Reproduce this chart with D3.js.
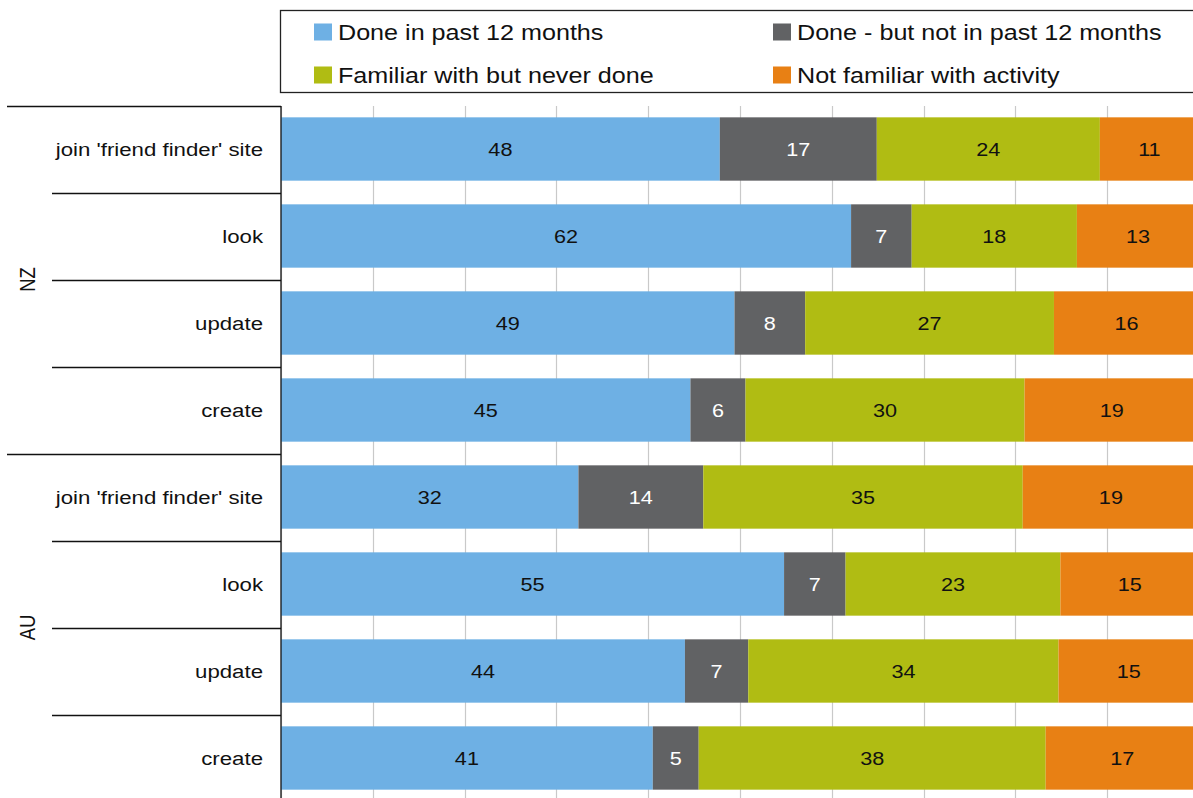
<!DOCTYPE html>
<html>
<head>
<meta charset="utf-8">
<script src="https://cdn.jsdelivr.net/npm/d3@7.9.0/dist/d3.min.js"></script>
<style>
    html, body { margin: 0; padding: 0; background: #fff; }
    svg { display: block; }
    text { font-family: "Liberation Sans", Arial, Helvetica, sans-serif; }
</style>
</head>
<body>
<svg id="chart" width="1193" height="798"></svg>
<script>
// data (percent of respondents)
var groups = ['NZ', 'AU']
var categories = ["join 'friend finder' site", 'look', 'update', 'create']
var seriesNames = [
    'Done in past 12 months',
    'Done - but not in past 12 months',
    'Familiar with but never done',
    'Not familiar with activity',
]
// one value per row: NZ rows first, then AU rows
var doneRecent = [47.8, 62.1, 49.4, 44.6, 32.4, 54.8, 44.0, 40.5]
var doneOlder = [17.1, 6.6, 7.7, 6.0, 13.6, 6.7, 6.9, 5.0]
var familiarNever = [24.3, 18.0, 27.1, 30.4, 34.8, 23.4, 33.8, 37.8]
var notFamiliar = [10.8, 13.3, 15.8, 19.0, 19.2, 15.1, 15.3, 16.7]
var xTicks = [0, 10, 20, 30, 40, 50, 60, 70, 80, 90, 100]

var COLORS = ['#6eb0e4', '#616264', '#b0bc13', '#e88014']
var LABEL_FILL = ['#111', '#fff', '#111', '#111']
var SX = 1.17 // the source picture is a little wider than tall

;(function () {
    var svg = d3.select('#chart')

    var rows = []
    groups.forEach(function (g, gi) {
        categories.forEach(function (c, ci) {
            var i = gi * categories.length + ci
            rows.push({
                key: g + '|' + c,
                group: g,
                cat: c,
                s0: doneRecent[i],
                s1: doneOlder[i],
                s2: familiarNever[i],
                s3: notFamiliar[i],
            })
        })
    })

    var x = d3.scaleLinear().domain([0, 100]).range([281, 1199])
    var y = d3
        .scaleBand()
        .domain(rows.map(function (d) { return d.key }))
        .range([105.5, 801.5])
        .paddingInner(0.272)
        .paddingOuter(0.136)

    var stack = d3.stack().keys(['s0', 's1', 's2', 's3'])
    var layers = stack(rows)

    function stretched(sel, tx, ty) {
        return sel.attr('transform', function (d, i) {
            return 'translate(' + tx(d, i) + ',' + ty(d, i) + ') scale(' + SX + ',1)'
        })
    }

    // gridlines
    svg.append('g')
        .selectAll('line')
        .data(xTicks)
        .join('line')
        .attr('x1', function (d) { return Math.round(x(d)) + 0.5 })
        .attr('x2', function (d) { return Math.round(x(d)) + 0.5 })
        .attr('y1', 106)
        .attr('y2', 798)
        .attr('stroke', '#c9c9c9')
        .attr('stroke-width', 1.2)

    // bars
    var layer = svg.append('g')
        .selectAll('g')
        .data(layers)
        .join('g')
        .attr('fill', function (d, i) { return COLORS[i] })

    layer.selectAll('rect')
        .data(function (d) { return d })
        .join('rect')
        .attr('x', function (d) { return x(d[0]) })
        .attr('width', function (d) { return x(d[1]) - x(d[0]) })
        .attr('y', function (d) { return y(d.data.key) })
        .attr('height', y.bandwidth())

    // value labels, centred on each segment
    layers.forEach(function (L, li) {
        var t = svg.append('g')
            .selectAll('text')
            .data(L)
            .join('text')
            .attr('text-anchor', 'middle')
            .attr('dy', '0.36em')
            .attr('font-size', 18.5)
            .attr('fill', LABEL_FILL[li])
            .text(function (d) { return Math.round(d[1] - d[0]) })
        stretched(
            t,
            function (d) { return (x(d[0]) + x(d[1])) / 2 },
            function (d) { return y(d.data.key) + y.bandwidth() / 2 }
        )
    })

    // left axis: category labels and separators
    var axis = svg.append('g').attr('stroke', '#111').attr('stroke-width', 1.3)
    axis.append('line').attr('x1', 281).attr('x2', 281).attr('y1', 106).attr('y2', 798)

    var bounds = rows.map(function (d, i) {
        return { y: y(d.key) - (y.step() - y.bandwidth()) / 2, first: i % categories.length === 0 }
    })
    axis.selectAll('line.sep')
        .data(bounds)
        .join('line')
        .attr('class', 'sep')
        .attr('x1', function (d) { return d.first ? 7 : 52 })
        .attr('x2', 281)
        .attr('y1', function (d) { return Math.round(d.y) + 0.5 })
        .attr('y2', function (d) { return Math.round(d.y) + 0.5 })

    var cl = svg.append('g')
        .selectAll('text')
        .data(rows)
        .join('text')
        .attr('text-anchor', 'end')
        .attr('dy', '0.36em')
        .attr('font-size', 19)
        .attr('fill', '#111')
        .text(function (d) { return d.cat })
    stretched(cl, function () { return 263 }, function (d) { return y(d.key) + y.bandwidth() / 2 })

    svg.append('g')
        .selectAll('text')
        .data(groups)
        .join('text')
        .attr('text-anchor', 'middle')
        .attr('dy', '0.36em')
        .attr('font-size', 18.5)
        .attr('fill', '#111')
        .attr('transform', function (g) {
            var keys = rows.filter(function (r) { return r.group === g })
            var cy = (y(keys[0].key) + y(keys[keys.length - 1].key) + y.bandwidth()) / 2
            return 'translate(27,' + cy + ') scale(' + SX + ',1) rotate(-90)'
        })
        .text(function (g) { return g })

    // legend
    var lg = svg.append('g')
    lg.append('rect')
        .attr('x', 280.5)
        .attr('y', 10.5)
        .attr('width', 1000)
        .attr('height', 82)
        .attr('fill', '#fff')
        .attr('stroke', '#222')
        .attr('stroke-width', 1.3)

    var items = lg.selectAll('g.item')
        .data(seriesNames)
        .join('g')
        .attr('class', 'item')
        .attr('transform', function (d, i) {
            var col = i === 1 || i === 3 ? 1 : 0
            var row = i >= 2 ? 1 : 0
            return 'translate(' + (col ? 773 : 314) + ',' + (row ? 75 : 32) + ')'
        })
    items.append('rect')
        .attr('x', 0)
        .attr('y', -8.5)
        .attr('width', 18)
        .attr('height', 17)
        .attr('fill', function (d, i) { return COLORS[i] })
    items.append('text')
        .attr('transform', 'translate(24,0) scale(' + SX + ',1)')
        .attr('dy', '0.36em')
        .attr('font-size', 21.5)
        .attr('fill', '#111')
        .text(function (d) { return d })
})()
</script>
</body>
</html>
